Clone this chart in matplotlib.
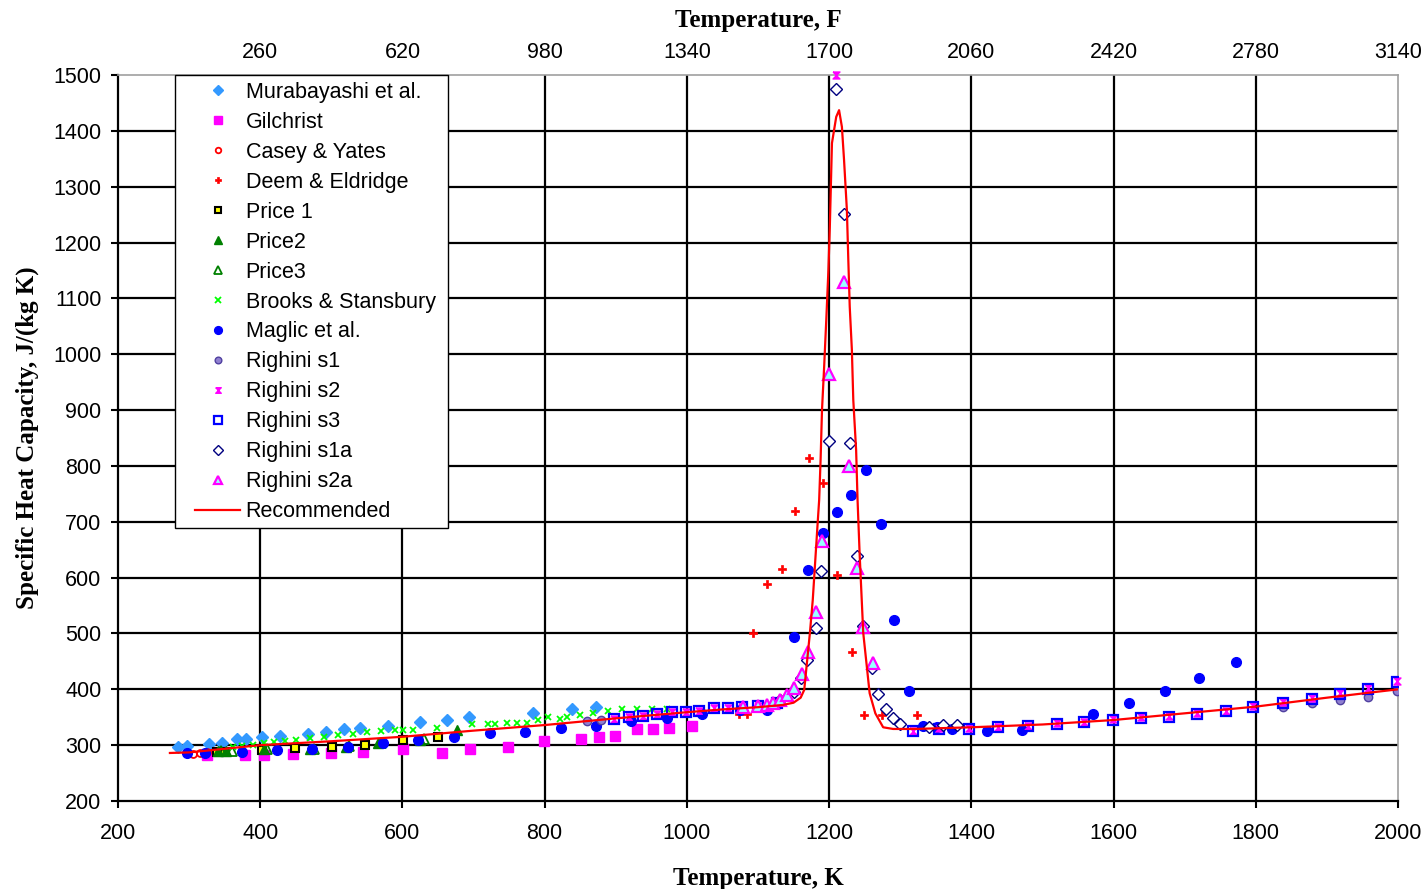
import matplotlib
matplotlib.use("Agg")
import matplotlib.pyplot as plt
from matplotlib.patches import Rectangle

plt.rcParams['font.family'] = ['Liberation Sans', 'DejaVu Sans']

# ---------------- data ----------------
murab_T = [284, 297, 328, 346, 367, 380, 402, 428, 467, 492, 518, 540, 580, 625, 663, 694, 784, 838, 872]
murab_cp = [297, 298, 302, 304, 311, 311, 315, 316, 320, 324, 329, 331, 334, 341, 345, 350, 358, 365, 369]

gil_T = [325, 379, 405, 446, 500, 545, 601, 656, 695, 748, 799, 851, 876, 899, 930, 952, 975, 1007]
gil_cp = [283, 283, 283, 285, 286, 288, 293, 286, 293, 297, 307, 311, 315, 317, 329, 329, 331, 334]

casey_T = [305, 315, 325]
casey_cp = [284, 286, 287]

deem_T = [1073, 1085, 1093, 1112, 1134, 1152, 1172, 1192, 1211, 1232, 1249, 1274, 1323]
deem_cp = [356, 356, 501, 589, 615, 719, 814, 769, 605, 467, 354, 354, 354]

price1_T = [339, 350, 402, 449, 501, 547, 601, 650]
price1_cp = [288, 288, 291, 295, 297, 300, 309, 315]

price2_T = [340, 352, 405, 470, 520, 566, 625, 677]
price2_cp = [289, 289, 293, 293, 297, 303, 309, 327]

price3_T = [345, 360, 410, 475, 525, 570, 630]
price3_cp = [290, 290, 294, 294, 298, 304, 311]

brooks_T = [362, 375, 390, 405, 420, 435, 450, 470, 490, 510, 530, 550, 570, 590, 601, 615,
            649, 698, 720, 730, 747, 761, 775, 791, 805, 822, 831, 850, 868, 889, 909, 930, 951, 972]
brooks_cp = [296, 298, 300, 303, 305, 308, 310, 313, 315, 318, 320, 323, 325, 327, 327, 327,
             331, 338, 338, 338, 340, 340, 340, 345, 350, 347, 350, 354, 358, 361, 365, 365, 365, 365]

maglic_T = [297, 322, 374, 423, 473, 523, 573, 622, 673, 723, 772, 823, 872, 921, 972, 1021, 1075, 1112,
            1151, 1171, 1191, 1211, 1231, 1252, 1273, 1291, 1313, 1332, 1352, 1373, 1422, 1471, 1571,
            1622, 1672, 1720, 1772]
maglic_cp = [286, 286, 287, 291, 294, 297, 304, 309, 315, 321, 324, 331, 334, 343, 349, 356, 363, 363,
             494, 614, 680, 717, 748, 793, 696, 524, 397, 334, 332, 329, 326, 327, 356,
             376, 397, 421, 449]

rs1_T = [859, 879, 1838, 1879, 1919, 1958, 1999]
rs1_cp = [343, 345, 369, 375, 381, 386, 397]

rs2_T = [897, 919, 938, 958, 979, 999, 1017, 1038, 1058, 1077, 1100, 1127, 1210, 1318, 1355, 1397, 1437,
         1480, 1520, 1559, 1599, 1639, 1678, 1718, 1758, 1796, 1838, 1879, 1919, 1958, 1999]
rs2_cp = [347, 350, 352, 356, 359, 359, 361, 366, 366, 369, 370, 375, 1500, 326, 330, 330, 333,
          335, 339, 342, 346, 350, 352, 357, 362, 370, 377, 384, 393, 403, 414]

rs3_T = [897, 919, 938, 958, 979, 999, 1017, 1038, 1058, 1077, 1100, 1127, 1318, 1355, 1397, 1437,
         1480, 1520, 1559, 1599, 1639, 1678, 1718, 1758, 1796, 1838, 1879, 1919, 1958, 1999]
rs3_cp = [347, 350, 352, 356, 359, 359, 361, 366, 366, 369, 370, 375, 325, 329, 329, 332,
          334, 338, 341, 345, 349, 351, 356, 361, 369, 375, 382, 391, 400, 413]

rs1a_T = [1131, 1150, 1160, 1169, 1181, 1189, 1200, 1210, 1221, 1229, 1239, 1248, 1260, 1269, 1280,
          1290, 1300, 1340, 1360, 1380]
rs1a_cp = [381, 395, 420, 452, 510, 612, 845, 1475, 1251, 841, 638, 513, 438, 391, 365,
           348, 338, 333, 336, 336]

rs2a_T = [1079, 1100, 1112, 1121, 1131, 1141, 1151, 1162, 1170, 1181, 1190, 1200, 1221, 1228, 1239, 1248, 1262]
rs2a_cp = [369, 370, 372, 375, 381, 390, 403, 427, 467, 539, 666, 965, 1129, 800, 617, 512, 447]

rec_T = [273, 300, 400, 500, 600, 700, 800, 900, 1000, 1050, 1100, 1135, 1150, 1160, 1165, 1173, 1177,
         1183, 1186, 1188, 1190, 1193, 1196, 1199, 1201, 1204, 1210, 1214, 1218, 1221, 1225, 1227,
         1229, 1232, 1234, 1238, 1240, 1243, 1248, 1257, 1265, 1276, 1290, 1320, 1400, 1500, 1600,
         1700, 1800, 1900, 2000]
rec_cp = [286, 287, 300, 307, 315, 326, 336, 348, 359, 364, 368, 372, 376, 385, 399, 501, 560,
          680, 739, 810, 900, 977, 1061, 1150, 1228, 1378, 1425, 1437, 1407, 1348, 1258, 1169,
          1085, 1008, 918, 828, 739, 640, 501, 393, 357, 332, 329, 329, 332, 337, 345,
          357, 369, 385, 400]

x_ticks = [200, 400, 600, 800, 1000, 1200, 1400, 1600, 1800, 2000]
y_ticks = [200, 300, 400, 500, 600, 700, 800, 900, 1000, 1100, 1200, 1300, 1400, 1500]
top_ticks = [400, 600, 800, 1000, 1200, 1400, 1600, 1800, 2000]
top_labels = ['260', '620', '980', '1340', '1700', '2060', '2420', '2780', '3140']

# ---------------- figure ----------------
W, H = 1423, 889
fig = plt.figure(figsize=(W / 100, H / 100), dpi=100)
ax = fig.add_axes([118 / W, (H - 801) / H, 1280 / W, 726 / H])
ax.set_xlim(200, 2000)
ax.set_ylim(200, 1500)

for xv in x_ticks[1:-1]:
    ax.axvline(xv, color='black', lw=1.6, zorder=1)
for yv in y_ticks[1:-1]:
    ax.axhline(yv, color='black', lw=1.6, zorder=1)

hour = [(-1, 1), (1, 1), (-1, -1), (1, -1), (-1, 1)]

ax.plot(murab_T, murab_cp, ls='none', marker='D', ms=6.5, mfc='#3399FF', mec='#3399FF',
        label='Murabayashi et al.', zorder=3)
ax.plot(gil_T, gil_cp, ls='none', marker='s', ms=6.5, mfc='#FF00FF', mec='#FF00FF',
        label='Gilchrist', zorder=3)
ax.plot(casey_T, casey_cp, ls='none', marker='o', ms=5, mfc='none', mec='#FF0000', mew=1.3,
        label='Casey & Yates', zorder=3)
ax.plot(deem_T, deem_cp, ls='none', marker='P', ms=5.5, mfc='#FF0000', mec='#FF0000', mew=0.5,
        label='Deem & Eldridge', zorder=3)
ax.plot(price1_T, price1_cp, ls='none', marker='s', ms=6, mfc='#FFFF00', mec='black', mew=1.5,
        label='Price 1', zorder=3)
ax.plot(price2_T, price2_cp, ls='none', marker='^', ms=7, mfc='#008000', mec='#008000',
        label='Price2', zorder=3)
ax.plot(price3_T, price3_cp, ls='none', marker='^', ms=7, mfc='none', mec='#008000', mew=1.3,
        label='Price3', zorder=3)
ax.plot(brooks_T, brooks_cp, ls='none', marker='x', ms=5, mfc='#00FF00', mec='#00FF00', mew=1.3,
        label='Brooks & Stansbury', zorder=3)
ax.plot(maglic_T, maglic_cp, ls='none', marker='o', ms=7, mfc='#0000FF', mec='#0000FF',
        label='Maglic et al.', zorder=3)
ax.plot(rs1_T, rs1_cp, ls='none', marker='o', ms=6, mfc='#9080D0', mec='#5040A0', mew=1.0,
        label='Righini s1', zorder=3)
ax.plot(rs2_T, rs2_cp, ls='none', marker=hour, ms=5, mfc='#FF00FF', mec='#FF00FF', mew=1.0,
        label='Righini s2', zorder=3, clip_on=False)
ax.plot(rs3_T, rs3_cp, ls='none', marker='s', ms=7, mfc='none', mec='#0000FF', mew=1.6,
        label='Righini s3', zorder=3)
ax.plot(rs1a_T, rs1a_cp, ls='none', marker='D', ms=6.5, mfc='white', mec='#000080', mew=1.0,
        label='Righini s1a', zorder=3)
ax.plot(rs2a_T, rs2a_cp, ls='none', marker='^', ms=8, mfc='#99FFFF', mec='#FF00FF', mew=1.6,
        label='Righini s2a', zorder=3)
ax.plot(rec_T, rec_cp, color='#FF0000', lw=1.6, label='Recommended', zorder=4)

for s in ['top', 'right']:
    ax.spines[s].set_color('#A0A0A0')
    ax.spines[s].set_linewidth(1.2)
for s in ['left', 'bottom']:
    ax.spines[s].set_color('black')
    ax.spines[s].set_linewidth(1.6)

ax.set_xticks(x_ticks)
ax.set_yticks(y_ticks)
ax.tick_params(axis='both', direction='out', length=5, width=1.5, color='black',
               labelsize=15.5, labelcolor='black')
ax.tick_params(axis='x', pad=10.5)
ax.tick_params(axis='y', pad=7)

ax.set_xlabel('Temperature, K', family='Liberation Serif', fontweight='bold', fontsize=18, labelpad=17)
ax.set_ylabel('Specific Heat Capacity, J/(kg K)', family='Liberation Serif', fontweight='bold',
              fontsize=18, labelpad=10)

ax2 = ax.twiny()
ax2.set_xlim(ax.get_xlim())
ax2.set_xticks(top_ticks)
ax2.set_xticklabels(top_labels)
ax2.tick_params(axis='x', length=0, pad=8.5, labelsize=15.5)
for s in ax2.spines.values():
    s.set_visible(False)
ax2.set_xlabel('Temperature, F', family='Liberation Serif', fontweight='bold', fontsize=18, labelpad=11)

# legend frame drawn as a rectangle matching the reference box
x0 = (175 - 118) / 1280
x1 = (448 - 118) / 1280
y0 = (801 - 528) / 726
ax.add_patch(Rectangle((x0, y0), x1 - x0, 1.0 - y0, transform=ax.transAxes,
                       facecolor='white', edgecolor='black', lw=1.0, zorder=9, clip_on=False))
leg = ax.legend(loc='upper left', bbox_to_anchor=((195 - 118) / 1280, 1 - (82 - 75) / 726),
                borderaxespad=0, borderpad=0, fontsize=15.5, frameon=False,
                labelspacing=0.415, handlelength=2.1, handletextpad=0.25,
                numpoints=1, markerscale=0.8)
leg.set_zorder(10)

fig.savefig('out.png', dpi=100)
